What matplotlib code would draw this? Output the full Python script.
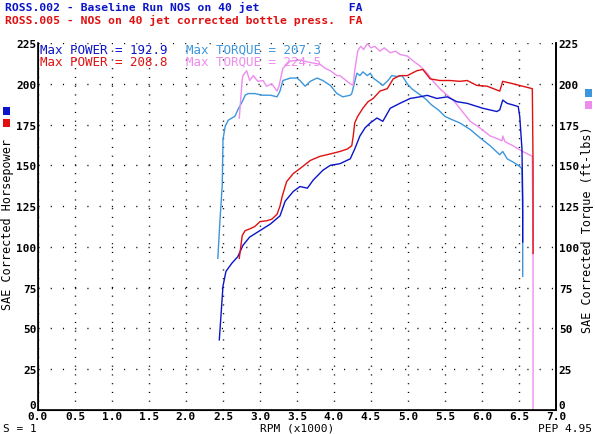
import matplotlib
matplotlib.use('Agg')
import matplotlib.pyplot as plt
import matplotlib.transforms as mtransforms
from matplotlib.patches import Rectangle

# baseline run (ROSS.002) - horsepower
base_hp_rpm = [2.45, 2.50, 2.54, 2.62, 2.70, 2.77, 2.86, 3.00, 3.14, 3.27, 3.34, 3.45, 3.54, 3.64,
               3.72, 3.85, 3.95, 4.08, 4.22, 4.28, 4.35, 4.42, 4.49, 4.58, 4.66, 4.76, 4.89, 5.03,
               5.16, 5.26, 5.39, 5.53, 5.66, 5.80, 6.01, 6.20, 6.24, 6.28, 6.34, 6.42, 6.49, 6.51,
               6.54, 6.55, 6.55]
base_hp = [43, 76, 85, 90, 94, 101, 106, 110, 114, 119, 128, 134, 137, 136,
           141, 147, 150, 151, 154, 160, 168, 173, 176, 179, 177, 185, 188, 191,
           192, 192.9, 191, 192, 189, 188, 185, 183, 184, 190, 188, 187, 186, 180,
           160, 130, 103]

# baseline run - torque
base_tq_rpm = [2.43, 2.46, 2.49, 2.50, 2.53, 2.57, 2.62, 2.66, 2.70, 2.76, 2.80, 2.84, 2.93, 3.03,
               3.14, 3.23, 3.27, 3.31, 3.41, 3.50, 3.54, 3.61, 3.68, 3.77, 3.85, 3.95, 4.04, 4.12,
               4.22, 4.24, 4.31, 4.35, 4.39, 4.45, 4.49, 4.53, 4.59, 4.66, 4.73, 4.78, 4.85, 4.92,
               4.99, 5.05, 5.14, 5.23, 5.32, 5.41, 5.50, 5.57, 5.70, 5.84, 5.97, 6.11, 6.24, 6.28,
               6.34, 6.42, 6.49, 6.54, 6.55, 6.55]
base_tq = [93, 117, 138, 166, 174, 177.6, 179, 180, 184, 189, 193, 194, 194, 193,
           193, 192, 195.5, 202, 203.5, 203.5, 202, 198.5, 201.5, 203.5, 202, 199, 194, 192,
           193, 194, 206.5, 205, 207.3, 205, 206.5, 203.5, 201.5, 199, 202, 205, 204.5, 205,
           200, 197, 194, 191, 187, 184, 180, 178.5, 176, 172, 167, 162, 156.5, 158.5,
           154, 152, 150, 148, 120, 82]

# NOS run (ROSS.005) - horsepower
nos_hp_rpm = [2.72, 2.76, 2.80, 2.86, 2.93, 3.00, 3.09, 3.16, 3.23, 3.27, 3.30, 3.36, 3.45, 3.54,
              3.68, 3.81, 3.95, 4.08, 4.18, 4.24, 4.26, 4.28, 4.32, 4.39, 4.46, 4.53, 4.62, 4.72,
              4.80, 4.89, 4.99, 5.12, 5.20, 5.30, 5.43, 5.57, 5.70, 5.80, 5.93, 6.07, 6.24, 6.28,
              6.42, 6.55, 6.68, 6.69, 6.69]
nos_hp = [93, 107, 110, 111, 112.5, 115.5, 116, 117, 120, 125, 131, 140, 145, 148,
          153, 155.5, 157, 158.5, 160, 162, 168, 176, 180, 185, 189, 191, 195.5, 197,
          203, 205, 205, 208, 208.8, 203, 202, 202, 201.5, 202, 199, 198.5, 195.5, 201.5,
          200, 198.5, 197, 150, 96]

# NOS run - torque
nos_tq_rpm = [2.72, 2.76, 2.77, 2.82, 2.86, 2.91, 2.97, 3.04, 3.09, 3.16, 3.23, 3.26, 3.27, 3.31,
              3.41, 3.54, 3.68, 3.81, 3.88, 3.95, 4.04, 4.08, 4.22, 4.26, 4.28, 4.32, 4.36, 4.40,
              4.45, 4.50, 4.55, 4.62, 4.68, 4.76, 4.83, 4.89, 4.99, 5.07, 5.16, 5.26, 5.34, 5.43,
              5.53, 5.61, 5.70, 5.84, 5.97, 6.11, 6.20, 6.27, 6.28, 6.31, 6.42, 6.55, 6.68, 6.69,
              6.69]
nos_tq = [179, 203, 205, 208, 202, 205, 201.5, 202, 198.5, 200, 195.5, 199, 201.5, 209.5,
          214, 214.5, 213, 212, 209.5, 208, 205, 205, 200, 199, 208, 220, 223, 221,
          224.5, 222, 223, 220, 222, 219, 220, 218, 217, 214, 211, 206.5, 201.5, 197,
          193, 190, 185, 177, 173, 168, 166.5, 165, 168, 164.5, 162, 158.5, 155.5, 100,
          0]

ticks_y = [0, 25, 50, 75, 100, 125, 150, 175, 200, 225]
ticks_x = [0.0, 0.5, 1.0, 1.5, 2.0, 2.5, 3.0, 3.5, 4.0, 4.5, 5.0, 5.5, 6.0, 6.5, 7.0]

c_blue = '#0a14c8'
c_lblue = '#3c96dc'
c_red = '#e01010'
c_pink = '#ee8cee'
mono = 'DejaVu Sans Mono'

fig = plt.figure(figsize=(5.95, 4.35), dpi=100)
ax = fig.add_axes([38 / 595, 24 / 435, 518 / 595, 367 / 435])

ax.plot(base_tq_rpm, base_tq, color=c_lblue, lw=1.0)
ax.plot(nos_tq_rpm, nos_tq, color=c_pink, lw=1.0)
ax.plot(base_hp_rpm, base_hp, color=c_blue, lw=1.0)
ax.plot(nos_hp_rpm, nos_hp, color=c_red, lw=1.0)

ax.set_xlim(0, 7.0)
ax.set_ylim(0, 225)
ax.set_xticks(ticks_x)
ax.set_xticklabels(['%.1f' % t for t in ticks_x], family=mono, fontsize=8, weight='bold')
ax.set_yticks(ticks_y)
ax.set_yticklabels([str(t) for t in ticks_y], family=mono, fontsize=8, weight='bold')
ax.tick_params(length=0, pad=1)

# dotted grid like the dyno software
ax.xaxis.grid(True, color='black', lw=1.0, linestyle=(0, (0.8, 5.5)))
ax.yaxis.grid(True, color='black', lw=1.0, linestyle=(0, (0.8, 8.0)))
ax.set_axisbelow(True)
ax.spines['top'].set_visible(False)
for s in ['left', 'bottom', 'right']:
    ax.spines[s].set_linewidth(1.2)

ax2 = ax.twinx()
ax2.set_ylim(0, 225)
ax2.set_yticks(ticks_y)
ax2.set_yticklabels([str(t) for t in ticks_y], family=mono, fontsize=8, weight='bold')
ax2.tick_params(length=0, pad=2)
ax2.spines['top'].set_visible(False)
ax2.spines['right'].set_linewidth(1.2)

# lift the two "0" labels so they sit above the rpm labels
lift = mtransforms.ScaledTranslation(0, 6 / 100, fig.dpi_scale_trans)
for a in (ax, ax2):
    for lab in a.get_yticklabels():
        if lab.get_text() == '0':
            lab.set_transform(lab.get_transform() + lift)

# header lines
fig.text(5 / 595, 1 - 7.5 / 435, 'ROSS.002 - Baseline Run NOS on 40 jet             FA',
         color=c_blue, family=mono, fontsize=8.2, va='center', weight='bold')
fig.text(5 / 595, 1 - 20.5 / 435, 'ROSS.005 - NOS on 40 jet corrected bottle press.  FA',
         color=c_red, family=mono, fontsize=8.2, va='center', weight='bold')

# max values inside plot
fig.text(40 / 595, 1 - 50 / 435, 'Max POWER = 192.9', color=c_blue, family=mono, fontsize=9, va='center')
fig.text(40 / 595, 1 - 62 / 435, 'Max POWER = 208.8', color=c_red, family=mono, fontsize=9, va='center')
fig.text(186 / 595, 1 - 50 / 435, 'Max TORQUE = 207.3', color=c_lblue, family=mono, fontsize=9, va='center')
fig.text(186 / 595, 1 - 62 / 435, 'Max TORQUE = 224.5', color=c_pink, family=mono, fontsize=9, va='center')

# axis titles
fig.text(8 / 595, 1 - 225 / 435, 'SAE Corrected Horsepower', rotation=90, family=mono,
         fontsize=8.5, ha='center', va='center')
fig.text(588 / 595, 1 - 230 / 435, 'SAE Corrected Torque (ft-lbs)', rotation=90, family=mono,
         fontsize=8.5, ha='center', va='center')
fig.text(3 / 595, 1 - 429 / 435, 'S = 1', family=mono, fontsize=8, va='center')
fig.text(297 / 595, 1 - 429 / 435, 'RPM (x1000)', family=mono, fontsize=8, va='center', ha='center')
fig.text(592 / 595, 1 - 429 / 435, 'PEP 4.95', family=mono, fontsize=8, va='center', ha='right')

# small colour keys
for (x0, y0, c) in [(3, 108, c_blue), (3, 120, c_red), (585, 90, c_lblue), (585, 102, c_pink)]:
    fig.add_artist(Rectangle((x0 / 595, 1 - (y0 + 8) / 435), 7 / 595, 8 / 435,
                             transform=fig.transFigure, color=c, lw=0))

fig.savefig('out.png', dpi=100)
